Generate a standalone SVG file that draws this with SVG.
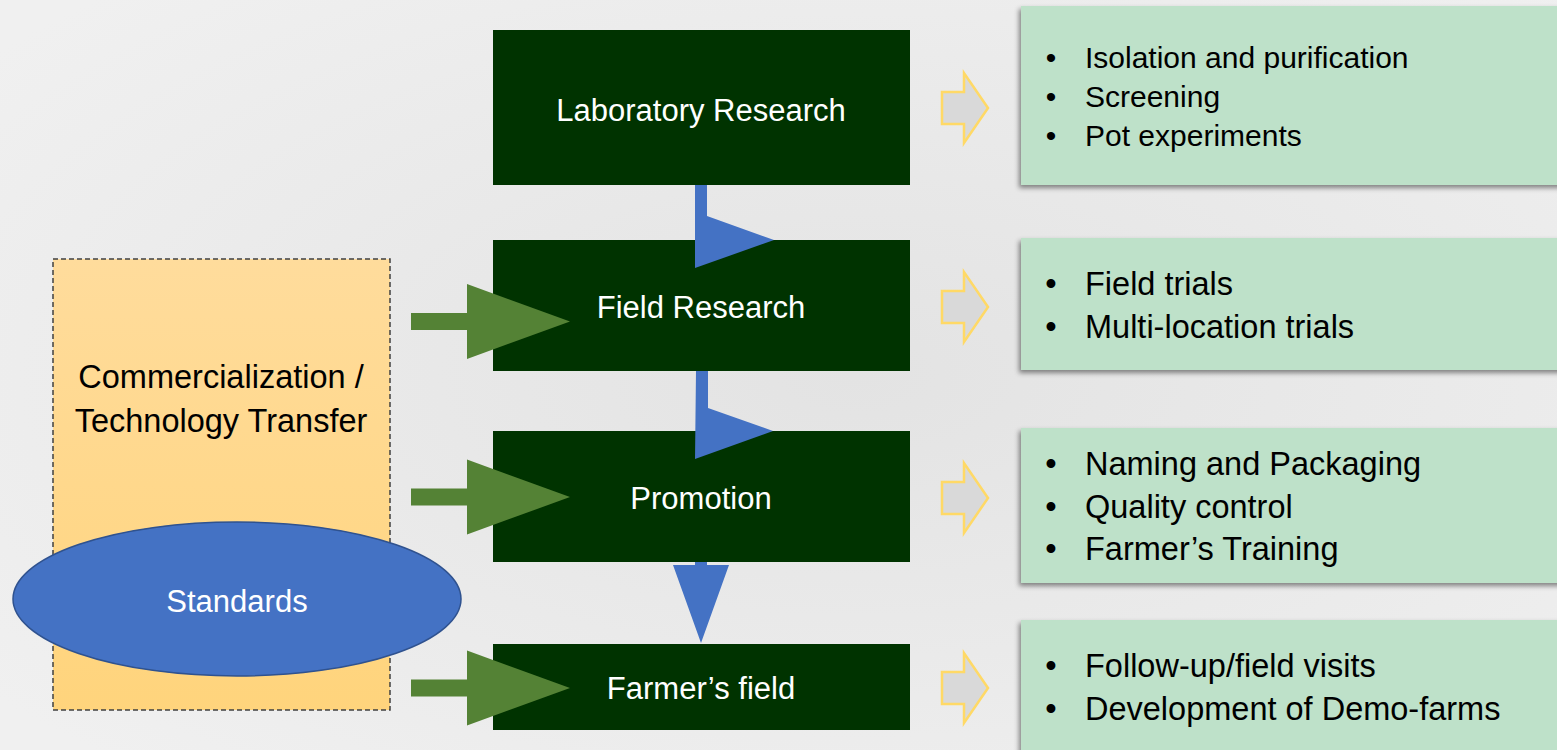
<svg xmlns="http://www.w3.org/2000/svg" xmlns:xlink="http://www.w3.org/1999/xlink" width="1557" height="750" viewBox="0 0 1557 750">
<style>
  .dark { fill: #003300; }
  .darktxt { font-family: "Liberation Sans", Arial, sans-serif; font-size: 31px; fill: #ffffff; text-anchor: middle; }
  .panel { fill: #bee1c9; }
  .li { font-family: "Liberation Sans", Arial, sans-serif; font-size: 32.5px; fill: #000000; }
  .li1 { font-size: 30px; }
  .bul { text-anchor: middle; }
  .side { font-family: "Liberation Sans", Arial, sans-serif; font-size: 32.5px; fill: #000000; text-anchor: middle; }
  .std { font-family: "Liberation Sans", Arial, sans-serif; font-size: 31px; fill: #ffffff; text-anchor: middle; }
  .blue { fill: #4472c4; }
  .garrow { fill: #548235; }
  .yarrow { fill: #d9d9d9; stroke: #ffd966; stroke-width: 2.5; }
</style>
<defs>
  <radialGradient id="bg" cx="0.55" cy="0.5" r="0.7">
    <stop offset="0" stop-color="#e3e3e3"/>
    <stop offset="1" stop-color="#f0f0f0"/>
  </radialGradient>
  <linearGradient id="ybox" x1="0" y1="0" x2="0" y2="1">
    <stop offset="0" stop-color="#ffdc9c"/>
    <stop offset="1" stop-color="#ffd47c"/>
  </linearGradient>
  <filter id="shadow" x="-5%" y="-10%" width="110%" height="130%">
    <feDropShadow dx="-2" dy="3" stdDeviation="2.5" flood-color="#000000" flood-opacity="0.45"/>
  </filter>
  <path id="ga" d="M411,-8.5 H467 V-37.5 L570,0 L467,37.5 V8.5 H411 Z"/>
  <path id="ya" d="M942,-16 H964 V-35 L988,0 L964,35 V16 H942 Z"/>
</defs>

<rect width="1557" height="750" fill="url(#bg)"/>

<g id="commercialization">
  <rect x="53" y="259" width="337" height="451" fill="url(#ybox)" stroke="#404040" stroke-width="1.5" stroke-dasharray="5,3"/>
  <text class="side" x="221" y="388">Commercialization /</text>
  <text class="side" x="221" y="432">Technology Transfer</text>
</g>

<g id="standards">
  <ellipse cx="237" cy="599" rx="224" ry="77" fill="#4472c4" stroke="#2f528f" stroke-width="1.5"/>
  <text class="std" x="237" y="612">Standards</text>
</g>

<g id="lab-research">
  <rect class="dark" x="493" y="30" width="417" height="155"/>
  <text class="darktxt" x="701" y="121">Laboratory Research</text>
</g>

<g id="field-research">
  <rect class="dark" x="493" y="240" width="417" height="131"/>
  <text class="darktxt" x="701" y="318">Field Research</text>
</g>

<g id="promotion">
  <rect class="dark" x="493" y="431" width="417" height="131"/>
  <text class="darktxt" x="701" y="509">Promotion</text>
</g>

<g id="farmers-field">
  <rect class="dark" x="493" y="644" width="417" height="86"/>
  <text class="darktxt" x="701" y="699">Farmer’s field</text>
</g>

<g id="lab-details">
  <rect class="panel" x="1021" y="6" width="545" height="179" filter="url(#shadow)"/>
  <text class="li li1 bul" x="1051" y="68">•</text>
  <text class="li li1" x="1085" y="68">Isolation and purification</text>
  <text class="li li1 bul" x="1051" y="107">•</text>
  <text class="li li1" x="1085" y="107">Screening</text>
  <text class="li li1 bul" x="1051" y="146">•</text>
  <text class="li li1" x="1085" y="146">Pot experiments</text>
</g>

<g id="field-details">
  <rect class="panel" x="1021" y="238" width="545" height="132" filter="url(#shadow)"/>
  <text class="li bul" x="1051" y="295">•</text>
  <text class="li" x="1085" y="295">Field trials</text>
  <text class="li bul" x="1051" y="338">•</text>
  <text class="li" x="1085" y="338">Multi-location trials</text>
</g>

<g id="promotion-details">
  <rect class="panel" x="1021" y="428" width="545" height="155" filter="url(#shadow)"/>
  <text class="li bul" x="1051" y="475">•</text>
  <text class="li" x="1085" y="475">Naming and Packaging</text>
  <text class="li bul" x="1051" y="518">•</text>
  <text class="li" x="1085" y="518">Quality control</text>
  <text class="li bul" x="1051" y="560">•</text>
  <text class="li" x="1085" y="560">Farmer’s Training</text>
</g>

<g id="farm-details">
  <rect class="panel" x="1021" y="620" width="545" height="140" filter="url(#shadow)"/>
  <text class="li bul" x="1051" y="677">•</text>
  <text class="li" x="1085" y="677">Follow-up/field visits</text>
  <text class="li bul" x="1051" y="720">•</text>
  <text class="li" x="1085" y="720">Development of Demo-farms</text>
</g>

<g id="connectors">
  <use href="#ya" class="yarrow" transform="translate(0,108)"/>
  <use href="#ya" class="yarrow" transform="translate(0,307)"/>
  <use href="#ya" class="yarrow" transform="translate(0,498)"/>
  <use href="#ya" class="yarrow" transform="translate(0,688)"/>
  <use href="#ga" class="garrow" transform="translate(0,321.5)"/>
  <use href="#ga" class="garrow" transform="translate(0,497)"/>
  <use href="#ga" class="garrow" transform="translate(0,688)"/>
  <polygon class="blue" points="695,185 707,185 707,216 774,240 695,268"/>
  <polygon class="blue" points="696,371 708,371 708,408 773,431 695,459"/>
  <polygon class="blue" points="695,562 707,562 707,565 729,565 701,643 673,565 695,565"/>
</g>
</svg>
